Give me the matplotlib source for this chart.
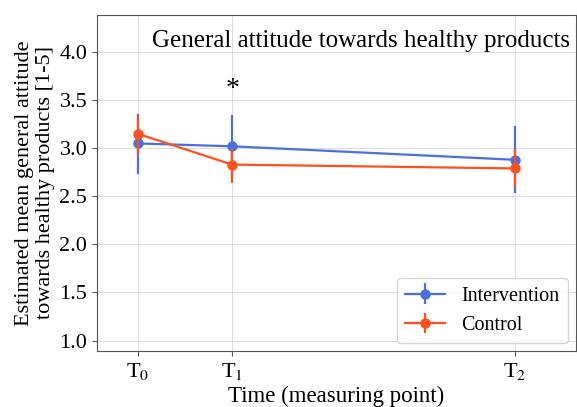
import matplotlib

matplotlib.use("Agg")
import matplotlib.pyplot as plt
import numpy as np

# estimated means and CI bounds per measuring point
TIME_POS = [0, 1, 4]
TIME_LABELS = ["T$_0$", "T$_1$", "T$_2$"]

INT_MEAN = [3.05, 3.02, 2.88]
INT_LOW = [2.73, 2.68, 2.53]
INT_HIGH = [3.36, 3.35, 3.23]

CTL_MEAN = [3.15, 2.83, 2.79]
CTL_LOW = [2.93, 2.64, 2.60]
CTL_HIGH = [3.33, 2.99, 2.99]

COL_INT = "#4a6fe3"
COL_CTL = "#ff5019"

plt.rcParams["font.family"] = ["Liberation Serif", "DejaVu Serif"]
plt.rcParams["mathtext.fontset"] = "stix"


def _yerr(mean, low, high):
    m = np.asarray(mean)
    return np.vstack([m - np.asarray(low), np.asarray(high) - m])


fig = plt.figure(figsize=(5.77, 4.07), dpi=100)
ax = fig.add_axes([0.168, 0.138, 0.830, 0.825])

ax.errorbar(TIME_POS, INT_MEAN, yerr=_yerr(INT_MEAN, INT_LOW, INT_HIGH), color=COL_INT,
            marker="o", ms=6.5, lw=1.6, elinewidth=1.6, label="Intervention", zorder=3)
ax.errorbar(TIME_POS, CTL_MEAN, yerr=_yerr(CTL_MEAN, CTL_LOW, CTL_HIGH), color=COL_CTL,
            marker="o", ms=6.5, lw=1.6, elinewidth=1.6, label="Control", zorder=4)

ax.text(1, 3.61, "*", ha="center", va="center", fontsize=20)
ax.text(0.988, 0.955, "General attitude towards healthy products", transform=ax.transAxes,
        ha="right", va="top", fontsize=18)

ax.set_xlim(-0.435, 4.65)
ax.set_ylim(0.893, 4.385)
ax.set_xticks(TIME_POS)
ax.set_xticklabels(TIME_LABELS)
ax.set_yticks(np.arange(1.0, 4.01, 0.5))
ax.tick_params(labelsize=16, color="#555555")
ax.grid(True, color="#dddddd", lw=0.8)
ax.set_axisbelow(True)
for s in ax.spines.values():
    s.set_color("#555555")

ax.set_xlabel("Time (measuring point)", fontsize=16.5, labelpad=3)
ax.set_ylabel("Estimated mean general attitude\ntowards healthy products [1-5]", fontsize=16,
              linespacing=1.15, labelpad=3)
ax.legend(loc="lower right", fontsize=14.5, borderaxespad=0.4, handlelength=2.0)

fig.savefig("out.png", dpi=100, facecolor="white")
